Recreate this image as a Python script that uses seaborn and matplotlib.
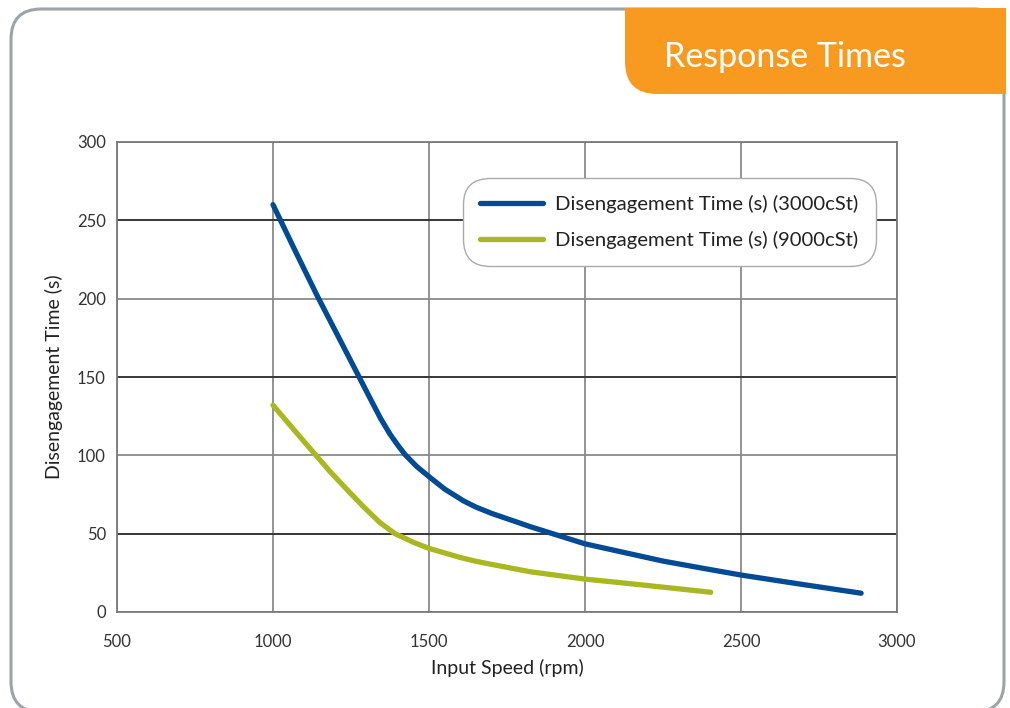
import numpy as np
import pandas as pd
import seaborn as sns
import matplotlib.pyplot as plt
from matplotlib.patches import FancyBboxPatch, Rectangle

# Данные
blue_x = [1000, 1070, 1140, 1210, 1276, 1320, 1345, 1375, 1400, 1423, 1460, 1500,
          1550, 1610, 1650, 1700, 1824, 1920, 2000, 2125, 2250, 2375, 2500, 2700, 2885]
blue_y = [260, 231, 202.5, 175.5, 150, 133, 123.5, 113.5, 106.5, 100.5, 93, 86.4,
          78.5, 71, 67, 63, 54.5, 48.5, 43.5, 38, 32.5, 28, 23.6, 17.5, 12]
green_x = [1000, 1090, 1183, 1240, 1290, 1343, 1391, 1450, 1500, 1600, 1650, 1700,
           1824, 2000, 2100, 2200, 2300, 2403]
green_y = [132, 111, 89.6, 77.5, 67.2, 57, 50, 44.5, 40.6, 34.8, 32.4, 30.4,
           25.7, 21, 19, 16.9, 14.8, 12.6]
series_names = ['Disengagement Time (s) (3000cSt)', 'Disengagement Time (s) (9000cSt)']
x_ticks = [500, 1000, 1500, 2000, 2500, 3000]
y_ticks = [0, 50, 100, 150, 200, 250, 300]
dark_y_lines = [50, 150, 250]

df = pd.concat([
    pd.DataFrame({'speed': blue_x, 'time': blue_y, 'series': series_names[0]}),
    pd.DataFrame({'speed': green_x, 'time': green_y, 'series': series_names[1]}),
])

sns.set_theme(style='white')
plt.rcParams['font.family'] = ['Lato', 'DejaVu Sans']

W, H = 1010, 708
fig = plt.figure(figsize=(W / 100, H / 100), dpi=100)


def fx(px):
    return px / W


def fy(py):
    return 1 - py / H


# Рамка с закруглёнными углами
frame = FancyBboxPatch((fx(11), fy(712)), fx(1004) - fx(11), fy(9) - fy(712),
                       boxstyle='round,pad=0,rounding_size=0.03',
                       transform=fig.transFigure, facecolor='white',
                       edgecolor='#9ea3a8', linewidth=2.2, zorder=-5,
                       mutation_aspect=W / H)
fig.patches.append(frame)

# Оранжевая плашка заголовка
orange = '#f89a20'
tab_round = FancyBboxPatch((fx(625), fy(94)), fx(1006) - fx(625), fy(8) - fy(94),
                           boxstyle='round,pad=0,rounding_size=0.032',
                           transform=fig.transFigure, facecolor=orange,
                           edgecolor='none', zorder=1, mutation_aspect=W / H)
fig.patches.append(tab_round)
fig.patches.append(Rectangle((fx(665), fy(94)), fx(1006) - fx(665), fy(8) - fy(94),
                             transform=fig.transFigure, facecolor=orange,
                             edgecolor='none', zorder=1))
fig.patches.append(Rectangle((fx(625), fy(55)), fx(1006) - fx(625), fy(8) - fy(55),
                             transform=fig.transFigure, facecolor=orange,
                             edgecolor='none', zorder=1))
fig.text(fx(785), fy(57), 'Response Times', color='white', fontsize=24.5,
         ha='center', va='center', zorder=2)

ax = fig.add_axes([fx(117), fy(612), fx(897) - fx(117), fy(142) - fy(612)])

sns.lineplot(data=df, x='speed', y='time', hue='series', ax=ax,
             palette=['#004b93', '#a9b820'], linewidth=3.8,
             estimator=None, sort=False, solid_capstyle='round',
             solid_joinstyle='round', zorder=3)

ax.set_xlim(500, 3000)
ax.set_ylim(0, 300)
ax.set_xticks(x_ticks)
ax.set_yticks(y_ticks)
ax.grid(True, color='#8a8a8a', linewidth=1.3, zorder=0.5)
for v in dark_y_lines:
    ax.axhline(v, color='#2a2a2a', linewidth=1.2, zorder=1)
for s in ax.spines.values():
    s.set_color('#7a7a7a')
    s.set_linewidth(1.3)
ax.tick_params(length=0, labelsize=12, colors='#333333')
ax.tick_params(axis='x', pad=16)
ax.tick_params(axis='y', pad=8)
ax.set_xlabel('Input Speed (rpm)', fontsize=14, color='#222222', labelpad=6)
ax.set_ylabel('Disengagement Time (s)', fontsize=14, color='#222222', labelpad=10)

leg = ax.legend(loc='upper right', bbox_to_anchor=(0.973, 0.9234), fontsize=14.6,
                frameon=True, handlelength=3.1, handletextpad=0.6,
                labelspacing=0.85, borderpad=0.85, borderaxespad=0)
leg.set_zorder(5)
leg.get_frame().set_boxstyle('round,pad=0,rounding_size=1.3')
leg.get_frame().set_edgecolor('#aaaaaa')
leg.get_frame().set_linewidth(1.0)
leg.get_frame().set_alpha(1)
for line in leg.get_lines():
    line.set_linewidth(3.8)
    line.set_solid_capstyle('round')
for t in leg.get_texts():
    t.set_color('#222222')

fig.savefig('out.png', dpi=100)
